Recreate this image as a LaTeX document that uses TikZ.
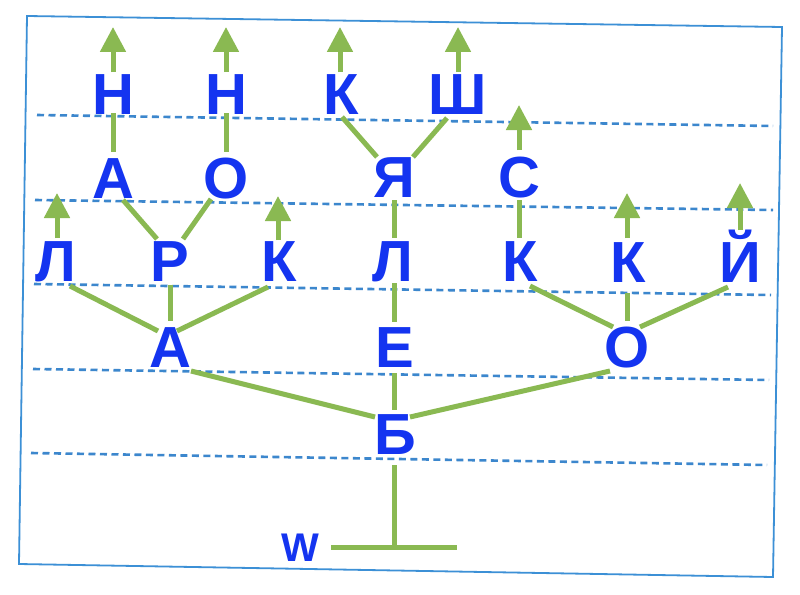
\documentclass[tikz,border=0pt]{standalone}
\usepackage{fontspec}
\setmainfont{Liberation Sans}
\usetikzlibrary{arrows.meta,calc}
\definecolor{letterblue}{RGB}{20,52,240}
\definecolor{treegreen}{RGB}{138,185,82}
\definecolor{frameblue}{RGB}{60,144,214}
\definecolor{dashblue}{RGB}{60,135,205}
\begin{document}
\begin{tikzpicture}[x=1pt,y=-1pt,
  bigletter/.style={inner sep=0pt, minimum width=44pt, minimum height=44pt, text height=41.5pt, text depth=0pt, text=letterblue, font=\fontsize{58}{58}\selectfont\bfseries},
  smallletter/.style={inner sep=0pt, text=letterblue, font=\fontsize{40}{40}\selectfont\bfseries},
  treeline/.style={draw=treegreen, line width=5pt},
  sprout/.style={treeline, -{Triangle[width=25pt,length=25pt]}},
  guideline/.style={draw=dashblue, line width=2.6pt, dash pattern=on 7pt off 4.5pt},
  boxframe/.style={draw=frameblue, line width=1.8pt}]
\useasboundingbox (0,0) rectangle (800,594);
\fill[white] (0,0) rectangle (800,594);
% frame
\draw[boxframe] (27,16) -- (782,27) -- (773,577) -- (19,564) -- cycle;
% guide lines
\draw[guideline] (37,115) -- (773,126);
\draw[guideline] (35,200) -- (773,210);
\draw[guideline] (34,284) -- (771,295);
\draw[guideline] (33,369) -- (769,380);
\draw[guideline] (31,453) -- (767,465);
% letters
\node[bigletter] (n1) at (113,94) {Н};
\node[bigletter] (n2) at (226,94) {Н};
\node[bigletter] (k1) at (341,94) {К};
\node[bigletter] (sh1) at (458,94) {Ш};
\node[bigletter] (a2) at (113,178) {А};
\node[bigletter] (o2) at (226,178) {О};
\node[bigletter] (ya2) at (394,177) {Я};
\node[bigletter] (c2) at (519,177) {С};
\node[bigletter] (l3a) at (56,261) {Л};
\node[bigletter] (r3) at (170,261) {Р};
\node[bigletter] (k3) at (279,261) {К};
\node[bigletter] (l3b) at (393,261) {Л};
\node[bigletter] (k3c) at (520,261) {К};
\node[bigletter] (k3d) at (628,262) {К};
\node[bigletter] (y3) at (740,262) {Й};
\node[bigletter] (a4) at (170,347) {А};
\node[bigletter] (e4) at (395,347) {Е};
\node[bigletter] (o4) at (627,347) {О};
\node[bigletter] (b5) at (395,434) {Б};
\node[smallletter] (w) at (300,548) {W};
\coordinate (root) at (394,547);
\coordinate (wl) at (331,547);
\coordinate (wr) at (457,547);
% tree: trunk
\draw[treeline] (wl) -- (wr);
\draw[treeline] ($(b5)+(-1,31)$) -- (root);
% verticals
\draw[treeline] ($(n1)+(0,19)$) -- ($(a2)+(0,-26)$);
\draw[treeline] ($(n2)+(0,19)$) -- ($(o2)+(0,-26)$);
\draw[treeline] ($(ya2)+(0,23)$) -- ($(l3b)+(1,-23)$);
\draw[treeline] ($(l3b)+(1,22)$) -- ($(e4)+(-1,-25)$);
\draw[treeline] ($(e4)+(-1,26)$) -- ($(b5)+(-1,-24)$);
\draw[treeline] ($(r3)+(0,24)$) -- ($(a4)+(0,-26)$);
\draw[treeline] ($(c2)+(0,23)$) -- ($(k3c)+(-1,-23)$);
\draw[treeline] ($(k3d)+(-1,31)$) -- ($(o4)+(0,-26)$);
% diagonals
\draw[treeline] ($(a2)+(10,22)$) -- ($(r3)+(-13,-22)$);
\draw[treeline] ($(o2)+(-15,21)$) -- ($(r3)+(13,-22)$);
\draw[treeline] ($(k1)+(1,23)$) -- ($(ya2)+(-17,-20)$);
\draw[treeline] ($(sh1)+(-11,24)$) -- ($(ya2)+(19,-20)$);
\draw[treeline] ($(b5)+(-20,-17)$) -- ($(a4)+(21,24)$);
\draw[treeline] ($(b5)+(15,-17)$) -- ($(o4)+(-17,24)$);
\draw[treeline] ($(l3a)+(14,25)$) -- ($(a4)+(-12,-16)$);
\draw[treeline] ($(k3)+(-11,26)$) -- ($(a4)+(7,-16)$);
\draw[treeline] ($(k3c)+(10,25)$) -- ($(o4)+(-14,-20)$);
\draw[treeline] ($(y3)+(-12,25)$) -- ($(o4)+(13,-20)$);
% growth arrows
\draw[sprout] ($(n1)+(0,-22)$) -- ++(0,-45);
\draw[sprout] ($(n2)+(0,-22)$) -- ++(0,-45);
\draw[sprout] ($(k1)+(-1,-22)$) -- ++(0,-45);
\draw[sprout] ($(sh1)+(0,-22)$) -- ++(0,-45);
\draw[sprout] ($(c2)+(0,-27)$) -- ++(0,-45);
\draw[sprout] ($(l3a)+(1,-23)$) -- ++(0,-45);
\draw[sprout] ($(k3)+(-1,-21)$) -- ++(0,-44);
\draw[sprout] ($(k3d)+(-1,-24)$) -- ++(0,-45);
\draw[sprout] ($(y3)+(0,-32)$) -- ++(0,-47);
\end{tikzpicture}
\end{document}
